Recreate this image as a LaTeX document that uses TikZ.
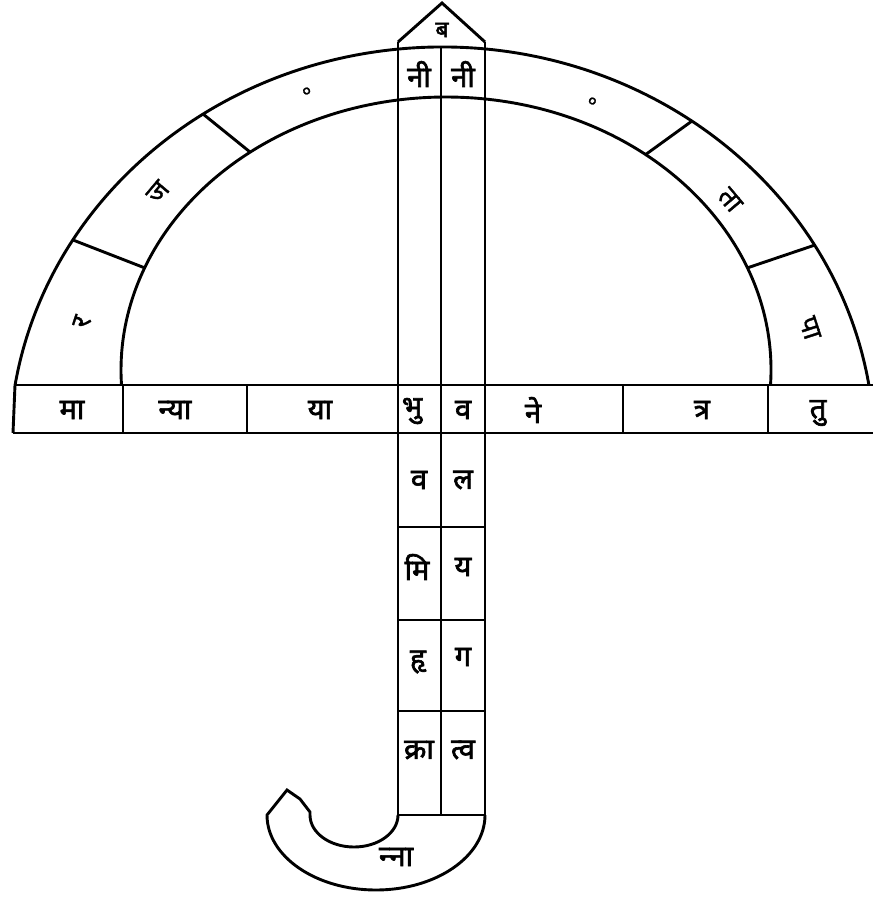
\documentclass[tikz,border=0pt]{standalone}
\usepackage{fontspec}
\newfontfamily\devb[Script=Devanagari,FakeBold=2.2]{Noto Sans}
\newfontfamily\devl[Script=Devanagari,FakeBold=1.2]{Noto Sans}
\begin{document}
\begin{tikzpicture}[x=1pt,y=-1pt,line width=2.9pt,
  lbl/.style={inner sep=0pt,font=\devb\fontsize{29}{32}\selectfont},
  rlbl/.style={inner sep=0pt,font=\devl\fontsize{27}{30}\selectfont},
  zlbl/.style={inner sep=0pt,font=\devl\fontsize{17}{19}\selectfont}]
\useasboundingbox (0,0) rectangle (873,899);
% outer and inner arcs of the canopy
\draw (442,450) ++(9.28:432.6pt and 403pt)
  arc[start angle=9.28,end angle=170.72,x radius=432.6pt,y radius=403pt];
\draw (446,370) ++(-3.15:325pt and 273pt)
  arc[start angle=-3.15,end angle=183.15,x radius=325pt,y radius=273pt];
% ring dividers
\draw (203,114) -- (250,152);
\draw (73,240) -- (145,268);
\draw (692,121) -- (645,155);
\draw (815,245) -- (747,268);
% band
\draw (15,385) -- (873,385);
\draw (13,433) -- (873,433);
\draw (15,385) -- (13,433);
\foreach \x in {123,247,623,768} \draw (\x,385) -- (\x,433);
% shaft columns and top cap
\draw (398,42) -- (398,815);
\draw (441,47) -- (441,815);
\draw (485,42) -- (485,815);
\draw[line join=miter] (398,42) -- (442,3) -- (485,42);
\foreach \y in {527,620,711} \draw (398,\y) -- (485,\y);
% hook
\draw (485,815) -- (398,815);
\draw (485,815) arc[start angle=0,end angle=-180,x radius=109pt,y radius=75pt]
  -- (287,790) -- (300,799) -- (310,812)
  -- (310,815) arc[start angle=180,end angle=360,x radius=44pt,y radius=32pt];
% top labels
\node[lbl,font=\devb\fontsize{23}{26}\selectfont] (apex) at (442,30) {ब};
\node[lbl] (n1) at (419,74) {नी};
\node[lbl] (n2) at (463,74) {नी};
% ring labels
\node[rlbl,rotate=72] (r1) at (82,322) {र};
\node[rlbl,rotate=50] (r2) at (158,192) {ज};
\node[zlbl,rotate=21] (r3) at (307,92) {०};
\node[zlbl,rotate=-23] (r4) at (592,102) {०};
\node[rlbl,rotate=-50] (r5) at (730,200) {ता};
\node[rlbl,rotate=-72] (r6) at (810,328) {पा};
% band labels
\node[lbl] (b1) at (72,410) {मा};
\node[lbl] (b2) at (175,410) {न्या};
\node[lbl] (b3) at (320,410) {या};
\node[lbl] (b4) at (412,411) {भु};
\node[lbl] (b5) at (463,410) {व};
\node[lbl] (b6) at (533,410) {ने};
\node[lbl] (b7) at (702,410) {त्र};
\node[lbl] (b8) at (818,413) {तु};
% shaft labels
\node[lbl] (s1) at (419,480) {व};
\node[lbl] (s2) at (463,480) {ल};
\node[lbl] (s3) at (417,567) {मि};
\node[lbl] (s4) at (463,567) {य};
\node[lbl] (s5) at (418,662) {हृ};
\node[lbl] (s6) at (463,657) {ग};
\node[lbl] (s7) at (419,750) {क्रा};
\node[lbl] (s8) at (463,750) {त्व};
% hook label
\node[lbl] (h1) at (396,857) {न्^^^^200dना};
\end{tikzpicture}
\end{document}
